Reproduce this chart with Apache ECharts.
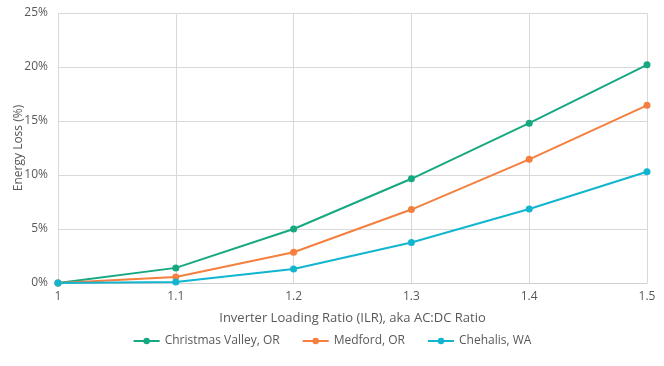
<!DOCTYPE html>
<html><head><meta charset="utf-8">
<script src="https://cdn.jsdelivr.net/npm/echarts@6/dist/echarts.min.js"></script>
<style>html,body{margin:0;padding:0;background:#fff}#c{width:664px;height:366px}</style>
</head><body><div id="c"></div>
<script>
const categories = ['1', '1.1', '1.2', '1.3', '1.4', '1.5'];
const christmasValley = [0, 1.4, 5.0, 9.65, 14.8, 20.2];
const medford = [0, 0.56, 2.85, 6.8, 11.45, 16.45];
const chehalis = [0, 0.1, 1.3, 3.75, 6.85, 10.3];
const yTicks = [0, 5, 10, 15, 20, 25];

const font = '"Open Sans", Lato, sans-serif';
const txt = '#595959';
const chart = echarts.init(document.getElementById('c'));
function mk(name, data, color) {
  return { name, type: 'line', data, symbol: 'circle', symbolSize: 7,
    lineStyle: { width: 2, color }, itemStyle: { color } };
}
chart.setOption({
  animation: false,
  textStyle: { fontFamily: font },
  grid: { left: 58, right: 17, top: 13, bottom: 83, containLabel: false, outerBoundsMode: 'none' },
  xAxis: {
    type: 'category', data: categories, boundaryGap: false,
    name: 'Inverter Loading Ratio (ILR), aka AC:DC Ratio', nameLocation: 'middle', nameGap: 29,
    nameMoveOverlap: false,
    nameTextStyle: { color: txt, fontSize: 13, fontFamily: font },
    axisLine: { lineStyle: { color: '#d0d0d0' } }, axisTick: { show: false },
    axisLabel: { color: txt, fontSize: 12, margin: 8, fontFamily: font },
    splitLine: { show: true, lineStyle: { color: '#d9d9d9' } }
  },
  yAxis: {
    type: 'value', min: yTicks[0], max: yTicks[yTicks.length - 1], interval: 5,
    name: 'Energy Loss (%)', nameLocation: 'middle', nameGap: 33, nameRotate: 90,
    nameMoveOverlap: false,
    nameTextStyle: { color: txt, fontSize: 12, fontFamily: font },
    axisLine: { show: false }, axisTick: { show: false },
    axisLabel: { color: txt, fontSize: 12, margin: 10, formatter: '{value}%', fontFamily: font },
    splitLine: { lineStyle: { color: '#d9d9d9' } }
  },
  legend: {
    bottom: 14, left: 'center', itemGap: 22, itemWidth: 26, itemHeight: 8,
    textStyle: { color: txt, fontSize: 12, fontFamily: font },
    data: ['Christmas Valley, OR', 'Medford, OR', 'Chehalis, WA']
  },
  series: [
    mk('Christmas Valley, OR', christmasValley, '#16a981'),
    mk('Medford, OR', medford, '#f47f3e'),
    mk('Chehalis, WA', chehalis, '#12b5cf')
  ]
});
</script></body></html>
